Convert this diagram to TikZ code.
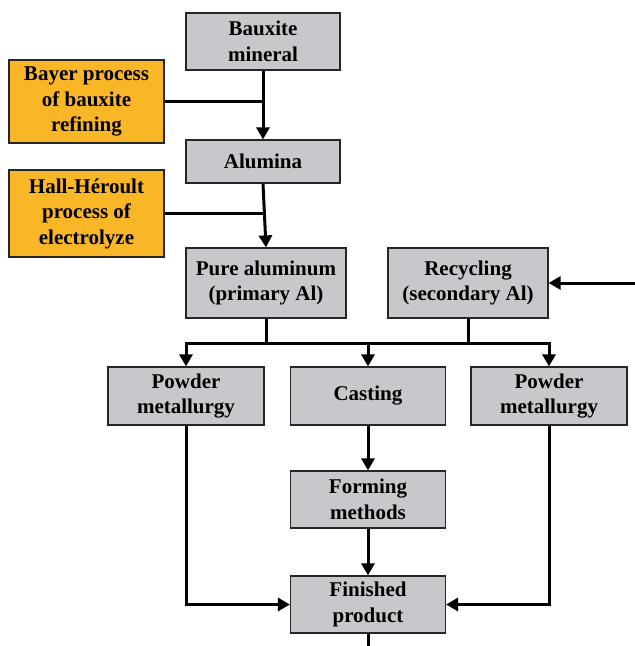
\documentclass[tikz,border=0pt]{standalone}
\usepackage{fontspec}
\setmainfont{Liberation Serif}
\usetikzlibrary{arrows.meta}
\definecolor{boxgray}{RGB}{200,200,204}
\definecolor{boxorange}{RGB}{249,183,40}
\begin{document}
\begin{tikzpicture}[x=1pt,y=-1pt,
  base/.style={draw=black!85,line width=1.2pt,align=center,inner sep=0pt,
    font=\fontsize{21}{25.5}\selectfont\bfseries},
  graybox/.style={base,fill=boxgray},
  orangebox/.style={base,fill=boxorange},
  conn/.style={line width=3pt},
  arr/.style={conn,-{Triangle[length=12pt,width=13pt]}}]
\useasboundingbox (0,0) rectangle (635,646);
\node[graybox,minimum width=154pt,minimum height=57pt] (baux) at (263,41.5) {Bauxite\\mineral};
\node[orangebox,minimum width=155pt,minimum height=83pt] (bayer) at (86.5,101.5) {Bayer process\\of bauxite\\refining};
\node[graybox,minimum width=154pt,minimum height=43pt] (alum) at (263,161.5) {Alumina};
\node[orangebox,minimum width=155pt,minimum height=87pt] (hall) at (86.5,213.5) {Hall-Héroult\\process of\\electrolyze};
\node[graybox,minimum width=160pt,minimum height=70pt] (pure) at (266,283) {Pure aluminum\\(primary Al)};
\node[graybox,minimum width=160pt,minimum height=70pt] (recy) at (468,283) {Recycling\\(secondary Al)};
\node[graybox,minimum width=156pt,minimum height=58pt] (pml) at (186,396) {Powder\\metallurgy};
\node[graybox,minimum width=155pt,minimum height=58pt] (cast) at (368,396) {Casting};
\node[graybox,minimum width=156pt,minimum height=58pt] (pmr) at (549,396) {Powder\\metallurgy};
\node[graybox,minimum width=155pt,minimum height=57pt] (form) at (368,499.5) {Forming\\methods};
\node[graybox,minimum width=155pt,minimum height=57pt] (fin) at (368,604.5) {Finished\\product};
\coordinate (recin) at (635,283);
\coordinate (busL) at (186,343);
\coordinate (busR) at (549,343);
\coordinate (busC) at (368,343);
\coordinate (pureB) at (266,343);
\coordinate (recyB) at (468,343);
\coordinate (bj) at (263,101.5);
\coordinate (hj) at (263,213.5);
\coordinate (finend) at (368,646);
\draw[arr] (baux.south) -- (alum.north);
\draw[conn] (bayer.east) -- (bj);
\draw[arr] (alum.south) -- (pure.north);
\draw[conn] (hall.east) -- (hj);
\draw[arr] (recin) -- (recy.east);
\draw[conn] (pure.south) -- (pureB);
\draw[conn] (recy.south) -- (recyB);
\draw[conn,line cap=rect] (busL) -- (busR);
\draw[arr] (busL) -- (pml.north);
\draw[arr] (busC) -- (cast.north);
\draw[arr] (busR) -- (pmr.north);
\draw[arr] (cast.south) -- (form.north);
\draw[arr] (form.south) -- (fin.north);
\draw[arr] (pml.south) |- (fin.west);
\draw[arr] (pmr.south) |- (fin.east);
\draw[conn] (fin.south) -- (finend);
\end{tikzpicture}
\end{document}
